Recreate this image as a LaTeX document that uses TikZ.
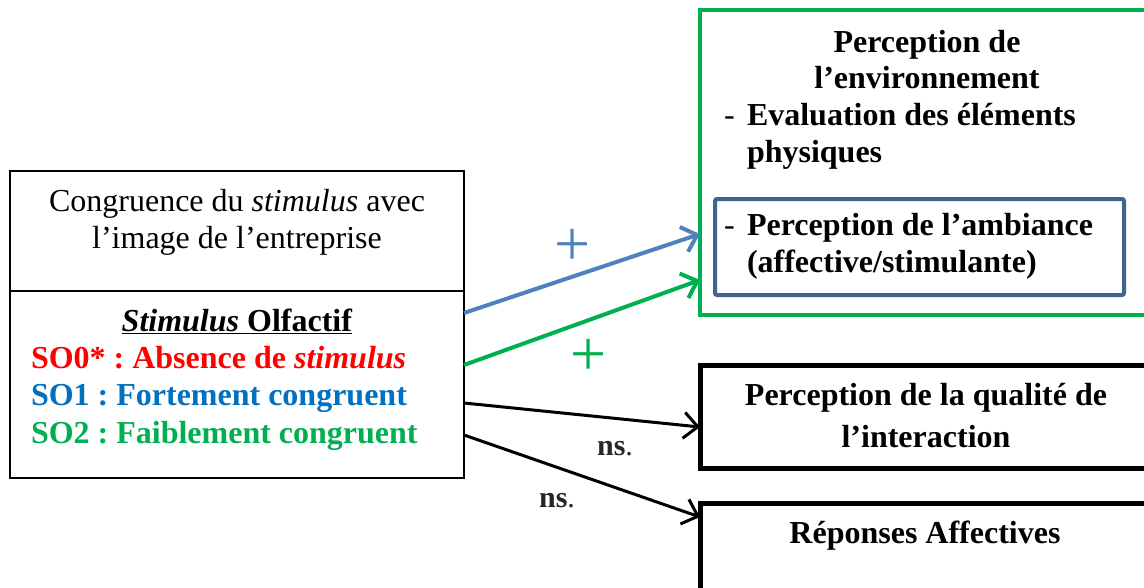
\documentclass[tikz,border=0pt]{standalone}
\usepackage{fontspec}
\setmainfont{Liberation Serif}
\usetikzlibrary{arrows.meta}
\definecolor{cred}{HTML}{FF0000}
\definecolor{cblue}{HTML}{0070C0}
\definecolor{cgreen}{HTML}{00B050}
\definecolor{carrowblue}{HTML}{4F81BD}
\definecolor{cboxblue}{HTML}{41648F}
\definecolor{cns}{HTML}{262626}
\frenchspacing
\begin{document}
\begin{tikzpicture}[x=1pt,y=-1pt,
  box/.style={draw, inner sep=0, outer sep=0},
  txt/.style={inner sep=0, outer sep=0, font=\fontsize{32}{37}\selectfont},
  conn/.style={-{Straight Barb[length=14pt,width=26pt]}},
  plus/.style={inner sep=0, outer sep=0, font=\fontsize{64}{64}\selectfont}]
\useasboundingbox (0,0) rectangle (1144,587);
\begin{scope}
\clip (0,0) rectangle (1144,587);
% boxes
\node[box, line width=1.4, minimum width=454, minimum height=120] (congr) at (237,231) {};
\node[box, line width=1.4, minimum width=454, minimum height=187] (stim) at (237,384.5) {};
\node[box, draw=cgreen, line width=4, minimum width=460, minimum height=305] (env) at (930,162.5) {};
\node[box, draw=cboxblue, line width=4, rounded corners=2, minimum width=409, minimum height=96] (amb) at (919.5,247) {};
\node[box, line width=5, minimum width=460, minimum height=103] (qual) at (930,416.5) {};
\node[box, line width=5, minimum width=460, minimum height=100] (rep) at (930,553) {};
% left box texts
\node[txt, anchor=base] (c1) at (237,211) {Congruence du \textit{stimulus} avec};
\node[txt, anchor=base] (c2) at (237,248) {l’image de l’entreprise};
\node[txt, anchor=base] (s0) at (237,331) {\underline{\textbf{\textit{Stimulus}} \textbf{Olfactif}}};
\node[txt, anchor=base west, text=cred] (s1) at (31,368) {\textbf{SO0* : Absence de \textit{stimulus}}};
\node[txt, anchor=base west, text=cblue] (s2) at (31,405) {\textbf{SO1 : Fortement congruent}};
\node[txt, anchor=base west, text=cgreen] (s3) at (31,443) {\textbf{SO2 : Faiblement congruent}};
% environment texts
\node[txt, anchor=base] (e1) at (927,52) {\textbf{Perception de}};
\node[txt, anchor=base] (e2) at (927,88) {\textbf{l’environnement}};
\node[txt, anchor=base west] (d1) at (724,125) {-};
\node[txt, anchor=base west] (e3) at (747,125) {\textbf{Evaluation des éléments}};
\node[txt, anchor=base west] (e4) at (747,162) {\textbf{physiques}};
\node[txt, anchor=base west] (d2) at (724,235) {-};
\node[txt, anchor=base west] (a1) at (747,235) {\textbf{Perception de l’ambiance}};
\node[txt, anchor=base west] (a2) at (747,272) {\textbf{(affective/stimulante)}};
% other boxes texts
\node[txt, anchor=base] (q1) at (926,405) {\textbf{Perception de la qualité de}};
\node[txt, anchor=base] (q2) at (926,447) {\textbf{l’interaction}};
\node[txt, anchor=base] (r1) at (925,543) {\textbf{Réponses Affectives}};
% connectors
\draw[conn, carrowblue, line width=4] ([yshift=-22]stim.north east) -- ([yshift=-224]env.north west);
\draw[conn, cgreen, line width=4] ([yshift=-74]stim.north east) -- ([yshift=-270]env.north west);
\draw[conn, black, line width=3] ([yshift=-112]stim.north east) -- ([yshift=-62]qual.north west);
\draw[conn, black, line width=3] ([yshift=-144]stim.north east) -- ([yshift=-14]rep.north west);
% labels
\node[plus, text=carrowblue] (p1) at (573,247) {+};
\node[plus, text=cgreen] (p2) at (589,357) {+};
\node[txt, anchor=base, text=cns, font=\fontsize{30}{36}\selectfont] (n1) at (615,455) {\textbf{ns}.};
\node[txt, anchor=base, text=cns, font=\fontsize{30}{36}\selectfont] (n2) at (557,507) {\textbf{ns}.};
\end{scope}
\end{tikzpicture}
\end{document}
